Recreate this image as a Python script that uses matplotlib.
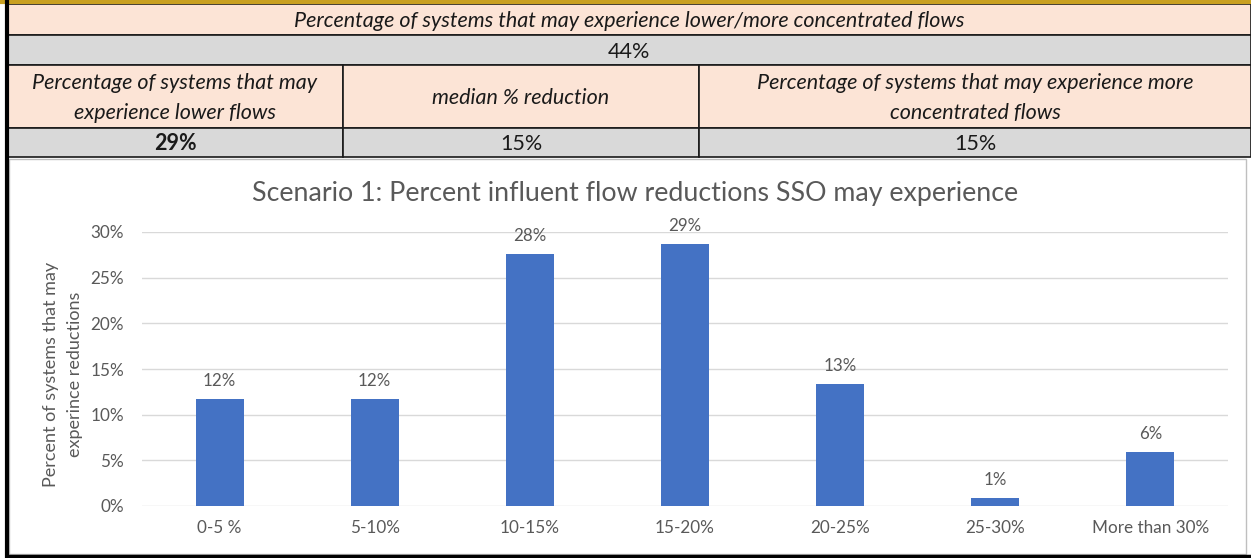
import matplotlib
matplotlib.use("Agg")
import matplotlib.pyplot as plt
from matplotlib.patches import Rectangle

# data
categorias = ["0-5 %", "5-10%", "10-15%", "15-20%", "20-25%", "25-30%", "More than 30%"]
valores = [0.117, 0.117, 0.276, 0.287, 0.134, 0.009, 0.059]

titulo_tabla = "Percentage of systems that may experience lower/more concentrated flows"
total_tabla = "44%"
encabezados = ["Percentage of systems that may\nexperience lower flows",
               "median % reduction",
               "Percentage of systems that may experience more\nconcentrated flows"]
fila_valores = ["29%", "15%", "15%"]

plt.rcParams["font.family"] = ["Lato", "DejaVu Sans"]

W, H = 1251, 558
fig = plt.figure(figsize=(W / 100, H / 100), dpi=100)

# fondo en pixeles para la tabla y el marco
fondo = fig.add_axes([0, 0, 1, 1])
fondo.set_xlim(0, W)
fondo.set_ylim(H, 0)
fondo.axis("off")

durazno = "#FCE4D6"
gris = "#D9D9D9"
x0, x1 = 7, 1251
cols = [x0, 343, 699, x1]
filas = [4, 35, 65, 128, 157]

def celda(xa, xb, ya, yb, color, texto, **kw):
    fondo.add_patch(Rectangle((xa, ya), xb - xa, yb - ya, facecolor=color,
                              edgecolor="#1a1a1a", linewidth=1.2))
    fondo.text((xa + xb) / 2, (ya + yb) / 2 + 1.5, texto, ha="center", va="center",
               fontsize=15.5, color="#1a1a1a", linespacing=1.68, **kw)

celda(x0, x1, filas[0], filas[1], durazno, titulo_tabla, style="italic")
celda(x0, x1, filas[1], filas[2], gris, total_tabla)
for i in range(3):
    celda(cols[i], cols[i + 1], filas[2], filas[3], durazno, encabezados[i], style="italic")
    celda(cols[i], cols[i + 1], filas[3], filas[4], gris, fila_valores[i],
          fontweight="bold" if i == 0 else "normal")

# marco del grafico
fondo.add_patch(Rectangle((9, 159), 1237, 395, facecolor="white", edgecolor="#BFBFBF", linewidth=1))
fondo.plot([0, W], [1.5, 1.5], color="#C9A020", linewidth=3)
fondo.plot([7, 7], [0, H], color="black", linewidth=3)
fondo.plot([7, W], [556, 556], color="black", linewidth=2.5)

# grafico de barras
ax = fig.add_axes([142 / W, (H - 506) / H, 1086 / W, 274 / H])
pos = range(len(categorias))
barras = ax.bar(pos, valores, width=0.31, color="#4472C4", zorder=3)
ax.bar_label(barras, labels=[f"{round(v * 100)}%" for v in valores], padding=7,
             fontsize=12.2, color="#595959")

ax.set_xlim(-0.5, len(categorias) - 0.5)
ax.set_ylim(0, 0.30)
ax.set_yticks([0, 0.05, 0.10, 0.15, 0.20, 0.25, 0.30])
ax.set_yticklabels(["0%", "5%", "10%", "15%", "20%", "25%", "30%"])
ax.set_xticks(list(pos))
ax.set_xticklabels(categorias)
ax.tick_params(axis="both", length=0, labelsize=12.3, labelcolor="#595959")
ax.tick_params(axis="y", pad=13)
ax.tick_params(axis="x", pad=10)
ax.grid(axis="y", color="#D9D9D9", linewidth=1, zorder=0)
ax.set_axisbelow(True)
for s in ax.spines.values():
    s.set_visible(False)
ax.set_facecolor("none")

ax.set_ylabel("Percent of systems that may\nexperince reductions", fontsize=13,
              color="#595959", linespacing=1.62)
ax.yaxis.set_label_coords(-0.0545, 0.48)
fig.text(635 / W, 1 - 193 / H, "Scenario 1: Percent influent flow reductions SSO may experience",
         ha="center", va="center", fontsize=19.3, color="#595959")

fig.savefig("out.png", dpi=100)
